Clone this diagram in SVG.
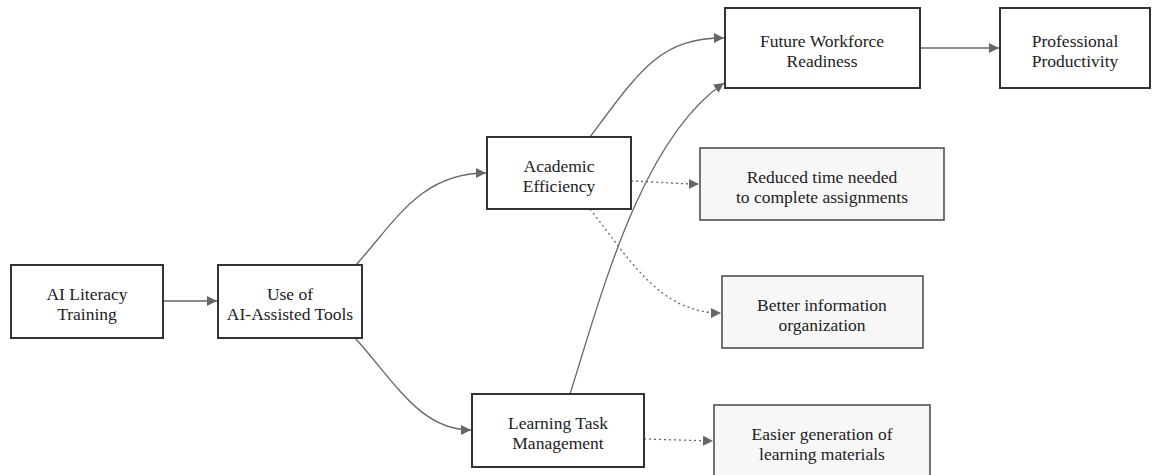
<svg xmlns="http://www.w3.org/2000/svg" width="1153" height="475" viewBox="0 0 1153 475">
<style>
.n rect{fill:#fff;stroke:#333;stroke-width:2}
.o rect{fill:#f7f7f7;stroke:#444;stroke-width:1.5}
text{font-family:"Liberation Serif","Times New Roman",serif;font-size:17.5px;fill:#222;text-anchor:middle}
.e{fill:none;stroke:#666;stroke-width:1.3}
.d{stroke-dasharray:2,3}
</style>
<defs>
<marker id="a" viewBox="0 0 10 10" refX="10" refY="5" markerWidth="10" markerHeight="10" markerUnits="userSpaceOnUse" orient="auto">
<path d="M0,0 L10,5 L0,10 z" fill="#666"/>
</marker>
</defs>
<rect width="1153" height="475" fill="#fff"/>
<g id="connectors">
<path class="e" d="M163,301 L217,301" marker-end="url(#a)"/>
<path class="e" d="M355,266 C395,222 420,173 486,173" marker-end="url(#a)"/>
<path class="e" d="M355,338 C395,382 420,430 471,430" marker-end="url(#a)"/>
<path class="e" d="M590,137 C640,70 660,38 724,38" marker-end="url(#a)"/>
<path class="e" d="M570,394 C600,300 640,140 724,83" marker-end="url(#a)"/>
<path class="e" d="M920,48 L999,48" marker-end="url(#a)"/>
<path class="e d" d="M631,181 C660,182 680,184 699,184" marker-end="url(#a)"/>
<path class="e d" d="M590,209 C630,260 660,313 721,313" marker-end="url(#a)"/>
<path class="e d" d="M644,439 L713,441" marker-end="url(#a)"/>
</g>
<g id="ai-literacy" class="n"><rect x="11" y="265" width="152" height="73"/><text x="87" y="300">AI Literacy</text><text x="87" y="320">Training</text></g>
<g id="use-tools" class="n"><rect x="218" y="265" width="144" height="73"/><text x="290" y="300">Use of</text><text x="290" y="320">AI-Assisted Tools</text></g>
<g id="academic" class="n"><rect x="487" y="137" width="144" height="72"/><text x="559" y="172">Academic</text><text x="559" y="192">Efficiency</text></g>
<g id="learning" class="n"><rect x="472" y="394" width="172" height="73"/><text x="558" y="429">Learning Task</text><text x="558" y="449">Management</text></g>
<g id="future" class="n"><rect x="725" y="8" width="195" height="80"/><text x="822" y="47">Future Workforce</text><text x="822" y="67">Readiness</text></g>
<g id="professional" class="n"><rect x="1000" y="8" width="150" height="80"/><text x="1075" y="47">Professional</text><text x="1075" y="67">Productivity</text></g>
<g id="reduced" class="o"><rect x="700" y="148" width="244" height="72"/><text x="822" y="183">Reduced time needed</text><text x="822" y="203">to complete assignments</text></g>
<g id="better" class="o"><rect x="722" y="276" width="201" height="72"/><text x="822" y="311">Better information</text><text x="822" y="331">organization</text></g>
<g id="easier" class="o"><rect x="714" y="405" width="216" height="72"/><text x="822" y="440">Easier generation of</text><text x="822" y="460">learning materials</text></g>
</svg>
